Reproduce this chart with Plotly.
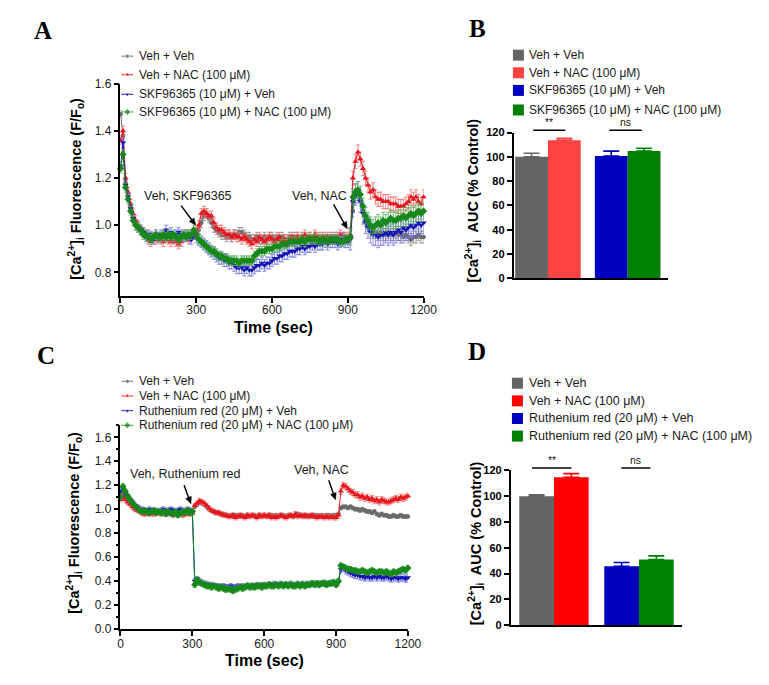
import math
import plotly.graph_objects as go

# page is drawn inside the default 8px body margin, so the figure is offset by 8px
OX, OY = 8, 8
FW, FH = 761, 677
FONT = "Liberation Sans, Arial, sans-serif"

# ---------------- DATA ----------------
time_s = list(range(0, 1201, 10))

# Panel A (SKF96365 experiment)
a_veh_veh = [1.47,1.38,1.18,1.13,1.08,1.03,1.01,0.99,0.98,0.97,
             0.96,0.95,0.96,0.94,0.95,0.94,0.95,0.96,0.95,0.94,
             0.95,0.94,0.95,0.96,0.95,0.96,0.95,0.96,0.95,0.96,
             0.97,0.98,1.01,1.04,1.05,1.03,1.01,0.99,0.98,0.97,
             0.96,0.96,0.95,0.96,0.95,0.96,0.96,0.97,0.97,0.96,
             0.95,0.95,0.94,0.94,0.95,0.94,0.94,0.95,0.94,0.95,
             0.95,0.94,0.95,0.94,0.95,0.94,0.94,0.95,0.94,0.95,
             0.95,0.94,0.95,0.94,0.95,0.95,0.94,0.95,0.94,0.95,
             0.94,0.95,0.94,0.95,0.94,0.95,0.95,0.94,0.95,0.94,
             0.94,0.95,1.06,1.12,1.13,1.11,1.06,1.02,1.00,0.98,
             0.97,0.97,0.96,0.97,0.96,0.96,0.97,0.96,0.96,0.97,
             0.96,0.96,0.95,0.96,0.95,0.94,0.95,0.95,0.96,0.95,0.95]
a_veh_nac = [1.36,1.40,1.20,1.14,1.09,1.05,1.02,1.00,0.98,0.97,
             0.96,0.94,0.93,0.95,0.94,0.95,0.94,0.93,0.95,0.94,
             0.93,0.94,0.93,0.92,0.93,0.95,0.96,0.94,0.95,0.96,
             0.97,1.00,1.05,1.06,1.05,1.04,1.04,1.01,0.99,0.98,
             0.98,0.97,0.96,0.96,0.95,0.96,0.95,0.95,0.94,0.95,
             0.94,0.93,0.92,0.94,0.93,0.95,0.94,0.93,0.94,0.95,
             0.94,0.93,0.94,0.95,0.93,0.94,0.93,0.94,0.95,0.93,
             0.95,0.94,0.95,0.96,0.94,0.95,0.94,0.96,0.95,0.94,
             0.95,0.94,0.95,0.94,0.95,0.94,0.95,0.96,0.95,0.95,
             0.95,0.96,1.20,1.27,1.31,1.28,1.24,1.20,1.17,1.14,
             1.15,1.12,1.11,1.11,1.10,1.10,1.10,1.09,1.09,1.09,
             1.08,1.08,1.08,1.09,1.10,1.12,1.11,1.12,1.10,1.09,1.12]
a_skf_veh = [1.25,1.35,1.17,1.12,1.07,1.03,1.00,0.99,0.98,0.97,
             0.95,0.96,0.95,0.94,0.96,0.95,0.96,0.95,0.98,0.96,
             0.97,0.95,0.96,0.97,0.96,0.95,0.96,0.95,0.94,0.96,
             0.95,0.94,0.93,0.92,0.91,0.90,0.89,0.88,0.87,0.86,
             0.86,0.85,0.85,0.84,0.84,0.83,0.82,0.82,0.82,0.81,
             0.82,0.81,0.81,0.82,0.83,0.83,0.84,0.83,0.84,0.84,
             0.85,0.86,0.86,0.87,0.87,0.88,0.88,0.89,0.89,0.89,
             0.90,0.90,0.91,0.90,0.91,0.91,0.92,0.91,0.92,0.92,
             0.92,0.93,0.92,0.93,0.93,0.93,0.92,0.93,0.94,0.93,
             0.93,0.94,1.10,1.13,1.14,1.10,1.05,1.01,0.99,0.97,
             0.96,0.96,0.95,0.96,0.96,0.97,0.96,0.97,0.96,0.97,
             0.98,0.97,0.99,0.98,0.99,1.00,0.99,1.00,1.01,1.00,1.01]
a_skf_nac = [1.24,1.30,1.16,1.11,1.06,1.02,1.00,0.99,0.98,0.96,
             0.96,0.95,0.94,0.95,0.96,0.95,0.95,0.96,0.95,0.96,
             0.95,0.96,0.95,0.94,0.95,0.96,0.95,0.96,0.96,0.98,
             0.96,0.94,0.93,0.92,0.91,0.90,0.89,0.89,0.88,0.87,
             0.87,0.86,0.86,0.85,0.85,0.85,0.85,0.84,0.85,0.85,
             0.85,0.85,0.85,0.87,0.88,0.89,0.89,0.89,0.90,0.90,
             0.90,0.91,0.91,0.91,0.92,0.92,0.92,0.93,0.93,0.93,
             0.93,0.93,0.94,0.93,0.94,0.94,0.94,0.94,0.94,0.93,
             0.94,0.94,0.93,0.94,0.94,0.94,0.94,0.93,0.93,0.94,
             0.94,0.95,1.12,1.14,1.15,1.13,1.08,1.04,1.02,1.00,
             0.99,1.00,1.01,1.00,1.02,1.01,1.02,1.03,1.02,1.02,
             1.03,1.03,1.04,1.03,1.04,1.05,1.04,1.05,1.06,1.05,1.06]

# Panel C (Ruthenium red experiment)
c_veh_veh = [1.10,1.12,1.10,1.08,1.06,1.04,1.02,1.01,0.99,0.98,
             0.97,0.97,0.98,0.97,0.98,0.97,0.98,0.98,0.97,0.98,
             0.98,0.97,0.98,0.98,0.97,0.98,0.97,0.98,0.98,0.99,
             0.98,1.02,1.04,1.06,1.05,1.04,1.02,1.00,0.99,0.98,
             0.97,0.97,0.96,0.96,0.95,0.95,0.95,0.94,0.95,0.95,
             0.94,0.95,0.94,0.95,0.94,0.95,0.95,0.94,0.95,0.94,
             0.95,0.94,0.95,0.95,0.94,0.95,0.94,0.95,0.95,0.94,
             0.95,0.95,0.94,0.95,0.96,0.95,0.95,0.94,0.95,0.95,
             0.94,0.95,0.95,0.94,0.95,0.94,0.95,0.95,0.94,0.95,
             0.95,0.96,1.01,1.02,1.02,1.01,1.02,1.01,1.00,1.00,
             0.99,1.00,0.99,0.98,0.98,0.97,0.98,0.96,0.95,0.96,
             0.95,0.95,0.94,0.94,0.95,0.94,0.94,0.95,0.94,0.94,0.94]
c_veh_nac = [1.08,1.10,1.08,1.06,1.04,1.02,1.00,0.99,0.98,0.97,
             0.96,0.97,0.96,0.97,0.96,0.97,0.98,0.96,0.97,0.96,
             0.97,0.96,0.95,0.96,0.97,0.96,0.95,0.96,0.97,0.96,
             0.97,1.03,1.05,1.07,1.06,1.05,1.03,1.01,0.99,0.98,
             0.97,0.97,0.96,0.95,0.95,0.94,0.94,0.95,0.93,0.94,
             0.95,0.94,0.93,0.95,0.94,0.95,0.94,0.93,0.95,0.94,
             0.95,0.94,0.95,0.93,0.94,0.93,0.94,0.95,0.94,0.93,
             0.94,0.95,0.94,0.96,0.94,0.95,0.94,0.95,0.94,0.94,
             0.95,0.94,0.93,0.94,0.94,0.93,0.94,0.93,0.94,0.93,
             0.93,0.95,1.15,1.20,1.19,1.17,1.15,1.14,1.12,1.12,
             1.10,1.11,1.09,1.10,1.08,1.09,1.07,1.08,1.06,1.08,
             1.07,1.06,1.06,1.07,1.08,1.09,1.08,1.10,1.09,1.10,1.11]
c_rr_veh = [1.15,1.17,1.13,1.10,1.08,1.06,1.03,1.02,1.00,1.00,
            0.99,0.98,1.00,0.99,0.98,0.99,0.98,0.99,1.00,0.98,
            0.99,1.00,0.99,0.98,0.99,1.00,0.99,0.98,1.00,0.99,
            0.98,0.40,0.42,0.40,0.39,0.38,0.38,0.37,0.37,0.36,
            0.36,0.36,0.35,0.36,0.35,0.35,0.36,0.35,0.35,0.36,
            0.35,0.36,0.35,0.36,0.36,0.35,0.36,0.37,0.36,0.37,
            0.37,0.36,0.37,0.37,0.38,0.37,0.37,0.38,0.37,0.37,
            0.37,0.38,0.37,0.37,0.38,0.37,0.38,0.37,0.38,0.37,
            0.38,0.38,0.37,0.38,0.38,0.39,0.38,0.38,0.39,0.38,
            0.38,0.39,0.50,0.51,0.49,0.48,0.47,0.46,0.45,0.45,
            0.44,0.44,0.43,0.44,0.43,0.43,0.44,0.43,0.44,0.43,
            0.43,0.44,0.43,0.42,0.43,0.43,0.42,0.43,0.43,0.42,0.43]
c_rr_nac = [1.10,1.19,1.15,1.11,1.08,1.05,1.03,1.01,0.99,0.98,
            0.99,0.98,0.97,0.98,0.99,0.97,0.98,0.97,0.98,0.96,
            0.98,0.97,0.96,0.98,0.95,0.97,0.98,0.97,0.99,0.97,
            0.98,0.37,0.41,0.39,0.38,0.37,0.36,0.36,0.35,0.36,
            0.35,0.34,0.35,0.34,0.33,0.34,0.33,0.32,0.33,0.34,
            0.35,0.34,0.35,0.36,0.35,0.36,0.35,0.36,0.36,0.35,
            0.36,0.36,0.37,0.36,0.36,0.37,0.36,0.37,0.36,0.37,
            0.36,0.37,0.36,0.36,0.37,0.36,0.37,0.36,0.37,0.37,
            0.38,0.37,0.38,0.37,0.38,0.38,0.37,0.38,0.38,0.39,
            0.37,0.40,0.53,0.52,0.51,0.50,0.50,0.49,0.49,0.48,
            0.48,0.49,0.48,0.47,0.48,0.49,0.48,0.47,0.48,0.48,
            0.47,0.48,0.47,0.46,0.48,0.47,0.48,0.49,0.50,0.49,0.51]

# SEM read per phase: [before first addition, after first addition, after NAC]
a_sem = {"veh_veh": [0.015, 0.02, 0.025], "veh_nac": [0.02, 0.02, 0.03],
         "skf_veh": [0.02, 0.025, 0.045], "skf_nac": [0.02, 0.02, 0.035]}
c_sem = {"veh_veh": [0.015, 0.015, 0.015], "veh_nac": [0.02, 0.02, 0.025],
         "rr_veh": [0.02, 0.02, 0.03], "rr_nac": [0.02, 0.025, 0.02]}

a_labels = ["Veh + Veh", "Veh + NAC (100 μM)", "SKF96365 (10 μM) + Veh",
            "SKF96365 (10 μM) + NAC (100 μM)"]
c_labels = ["Veh + Veh", "Veh + NAC (100 μM)", "Ruthenium red (20 μM) + Veh",
            "Ruthenium red (20 μM) + NAC (100 μM)"]

b_auc = [100, 113.6, 100.7, 104.7]
b_auc_sem = [3.0, 1.6, 4.0, 2.4]
d_auc = [100, 114.7, 45.6, 50.9]
d_auc_sem = [1.0, 2.8, 3.0, 2.8]

time_ticks = [0, 300, 600, 900, 1200]

# ---------------- STYLE / LAYOUT ----------------
line_cols = ["#6a6a6a", "#e8141c", "#1414b4", "#16891a"]
err_cols = ["rgba(140,140,140,0.8)", "rgba(240,110,110,0.8)",
            "rgba(110,110,230,0.8)", "rgba(90,175,90,0.8)"]
symbols = ["circle", "triangle-up", "triangle-down", "diamond"]
msizes = [4.5, 5.5, 5.5, 5.5]
b_cols = ["#646464", "#ff4242", "#0000c0", "#008000"]
d_cols = ["#646464", "#ff0000", "#0000c0", "#008000"]
bar_pos_b = [0, 1, 2.43, 3.43]
bar_pos_d = [0, 1, 2.45, 3.45]

# plot boxes in page pixels: (x_left, x_right, y_bottom, y_top)
BOX_A = (120, 430, 295, 78)
BOX_B = (522, 680, 277, 128)
BOX_C = (120, 414, 635, 427)
BOX_D = (519, 694, 631, 473)
RANGE_A = ([0, 1200], [0.7, 1.6])
RANGE_C = ([0, 1200], [0, 1.7])


def pxx(x):
    return (x - OX) / FW


def pxy(y):
    return 1 - (y - OY) / FH


def data_px(box, rng, xv, yv):
    (xl, xr, yb, yt), (rx, ry) = box, rng
    return (xl + (xv - rx[0]) / (rx[1] - rx[0]) * (xr - xl),
            yb + (yv - ry[0]) / (ry[1] - ry[0]) * (yt - yb))


def sem_series(ph):
    return [ph[0] if t < 300 else (ph[1] if t < 910 else ph[2]) for t in time_s]


fig = go.Figure()

# time courses
for (series, sems, xa, ya) in [
    ([a_veh_veh, a_veh_nac, a_skf_veh, a_skf_nac], list(a_sem.values()), "x", "y"),
    ([c_veh_veh, c_veh_nac, c_rr_veh, c_rr_nac], list(c_sem.values()), "x3", "y3"),
]:
    for i, vals in enumerate(series):
        assert len(vals) == len(time_s), (i, len(vals))
        fig.add_trace(go.Scatter(
            x=time_s, y=vals, mode="lines+markers", xaxis=xa, yaxis=ya,
            line=dict(color=line_cols[i], width=1),
            marker=dict(symbol=symbols[i], size=msizes[i], color=line_cols[i]),
            error_y=dict(type="data", array=sem_series(sems[i]), color=err_cols[i],
                         thickness=1, width=2),
            cliponaxis=False, showlegend=False, hoverinfo="skip"))

# bars
for vals, sems, cols, pos, labels, xa, ya in [
    (b_auc, b_auc_sem, b_cols, bar_pos_b, a_labels, "x2", "y2"),
    (d_auc, d_auc_sem, d_cols, bar_pos_d, c_labels, "x4", "y4"),
]:
    for i in range(4):
        fig.add_trace(go.Bar(
            x=[pos[i]], y=[vals[i]], width=1, xaxis=xa, yaxis=ya, name=labels[i],
            marker=dict(color=cols[i], line=dict(width=0)),
            error_y=dict(type="data", symmetric=False, array=[sems[i]], arrayminus=[0],
                         color=cols[i], thickness=1.6, width=8),
            showlegend=False, hoverinfo="skip"))

# manual legends on a full-page overlay axis (page-pixel units)
leg_rows_a = [50, 69, 89, 107]
leg_rows_c = [382, 397, 412, 427]
leg_rows_b = [49, 67, 85, 105]
leg_rows_d = [384, 402, 420, 438]
for rows in (leg_rows_a, leg_rows_c):
    for i, yy in enumerate(rows):
        fig.add_trace(go.Scatter(
            x=[121, 127, 133], y=[yy, yy, yy], mode="lines+markers", xaxis="x5", yaxis="y5",
            line=dict(color=line_cols[i], width=1),
            marker=dict(symbol=symbols[i], size=[0, msizes[i], 0], color=line_cols[i]),
            showlegend=False, hoverinfo="skip", cliponaxis=False))
for rows, cols, xc in ((leg_rows_b, b_cols, 527), (leg_rows_d, d_cols, 526)):
    for i, yy in enumerate(rows):
        fig.add_trace(go.Scatter(
            x=[xc], y=[yy], mode="markers", xaxis="x5", yaxis="y5",
            marker=dict(symbol="square", size=11, color=cols[i]),
            showlegend=False, hoverinfo="skip", cliponaxis=False))

ann = []
for rows, labels, x0, fs in ((leg_rows_a, a_labels, 137, 12), (leg_rows_c, c_labels, 137, 12),
                             (leg_rows_b, a_labels, 536, 12), (leg_rows_d, c_labels, 536, 12.5)):
    for yy, lab in zip(rows, labels):
        ann.append(dict(x=pxx(x0), y=pxy(yy), xref="paper", yref="paper", text=lab,
                        showarrow=False, xanchor="left", yanchor="middle",
                        font=dict(family=FONT, size=fs, color="#1a1a1a")))

# panel letters
for lab, x, y in (("A", 41, 24), ("B", 485, 22), ("C", 44, 356), ("D", 485, 352)):
    ann.append(dict(x=pxx(x), y=pxy(y), xref="paper", yref="paper", text=f"<b>{lab}</b>",
                    showarrow=False, xanchor="center", yanchor="middle",
                    font=dict(family="Liberation Serif, Times New Roman, serif", size=25,
                              color="black")))

# axis titles
ytitle_f = "[Ca<sup>2+</sup>]<sub>i</sub> Fluorescence (F/F<sub>o</sub>)"
ytitle_auc = "[Ca<sup>2+</sup>]<sub>i</sub>  AUC (% Control)"
for txt, x, y in ((ytitle_f, 75, 186), (ytitle_f, 73, 527),
                  (ytitle_auc, 481, 197), (ytitle_auc, 483, 547)):
    ann.append(dict(x=pxx(x), y=pxy(y), xref="paper", yref="paper", text=f"<b>{txt}</b>",
                    textangle=-90, showarrow=False, xanchor="center", yanchor="middle",
                    font=dict(family=FONT, size=14.5, color="black")))
for x, y in ((276, 327), (267, 667)):
    ann.append(dict(x=pxx(x), y=pxy(y), xref="paper", yref="paper", text="<b>Time (sec)</b>",
                    showarrow=False, xanchor="center", yanchor="middle",
                    font=dict(family=FONT, size=16, color="black")))

# event arrows (drawn as shapes) + their labels
shapes = []
for box, rng, hx, hy, dx, dy in ((BOX_A, RANGE_A, 298, 1.0, -15, -20),
                                 (BOX_A, RANGE_A, 898, 0.985, -14, -25),
                                 (BOX_C, RANGE_C, 294, 1.045, -7, -19),
                                 (BOX_C, RANGE_C, 898, 1.078, -7, -20)):
    tipx, tipy = data_px(box, rng, hx, hy)
    L = math.hypot(dx, dy)
    ux, uy = -dx / L, -dy / L
    bx, by = tipx - ux * 7, tipy - uy * 7
    nx, ny = -uy * 3, ux * 3
    shapes.append(dict(type="line", xref="paper", yref="paper",
                       x0=pxx(tipx + dx), y0=pxy(tipy + dy), x1=pxx(bx), y1=pxy(by),
                       line=dict(color="black", width=1.4)))
    path = (f"M {pxx(tipx)},{pxy(tipy)} L {pxx(bx + nx)},{pxy(by + ny)} "
            f"L {pxx(bx - nx)},{pxy(by - ny)} Z")
    shapes.append(dict(type="path", xref="paper", yref="paper", path=path,
                       fillcolor="black", line=dict(color="black", width=0.5)))
for txt, x, y in (("Veh, SKF96365", 189, 193), ("Veh, NAC", 324, 193),
                  ("Veh, Ruthenium red", 186, 477), ("Veh, NAC", 326, 473)):
    ann.append(dict(x=pxx(x), y=pxy(y), xref="paper", yref="paper", text=txt, showarrow=False,
                    xanchor="center", yanchor="middle",
                    font=dict(family=FONT, size=12.5, color="#1a1a1a")))

# significance markers
for xa, box, pairs in (("x2", BOX_B, [((0.05, 1.03), "**"), ((2.37, 3.36), "ns")]),
                       ("x4", BOX_D, [((-0.13, 1.0), "**"), ((2.44, 3.28), "ns")])):
    ypx = box[2] + 121.8 / 120 * (box[3] - box[2])
    yv = pxy(ypx)
    for (x0, x1), txt in pairs:
        shapes.append(dict(type="line", xref=xa, yref="paper", x0=x0, x1=x1, y0=yv, y1=yv,
                           line=dict(color="black", width=1.5)))
        ann.append(dict(x=(x0 + x1) / 2, y=pxy(ypx - 1), xref=xa, yref="paper", text=txt,
                        showarrow=False, xanchor="center", yanchor="bottom", borderpad=0,
                        font=dict(family=FONT, size=10.5, color="#1a1a1a")))

axis_common = dict(showline=True, linecolor="black", linewidth=1.5, ticks="outside",
                   ticklen=5, tickwidth=1.5, tickcolor="black", showgrid=False, zeroline=False,
                   mirror=False)
tick_reg = dict(family=FONT, size=12, color="#1a1a1a")
tick_bold = dict(family=FONT, size=11, color="black", weight="bold")
bar_x_common = dict(showline=True, linecolor="black", linewidth=1.5, ticks="",
                    showticklabels=False, showgrid=False, zeroline=False)

fig.update_layout(
    width=FW, height=FH, autosize=False, margin=dict(l=0, r=0, t=0, b=0),
    paper_bgcolor="white", plot_bgcolor="rgba(0,0,0,0)", showlegend=False,
    xaxis=dict(domain=[pxx(BOX_A[0]), pxx(BOX_A[1])], range=RANGE_A[0], anchor="y",
               tickvals=time_ticks, tickfont=tick_reg, ticklabelstandoff=-3, **axis_common),
    yaxis=dict(domain=[pxy(BOX_A[2]), pxy(BOX_A[3])], range=RANGE_A[1], anchor="x",
               tick0=0.8, dtick=0.2, tickformat=".1f", tickfont=tick_reg, **axis_common),
    xaxis2=dict(domain=[pxx(BOX_B[0]), pxx(BOX_B[1])], range=[-0.55, 4.16], anchor="y2",
                **bar_x_common),
    yaxis2=dict(domain=[pxy(BOX_B[2]), pxy(BOX_B[3])], range=[0, 120], anchor="x2", dtick=20,
                tickfont=tick_bold, **axis_common),
    xaxis3=dict(domain=[pxx(BOX_C[0]), pxx(BOX_C[1])], range=RANGE_C[0], anchor="y3",
                tickvals=time_ticks, tickfont=tick_reg, ticklabelstandoff=-2, **axis_common),
    yaxis3=dict(domain=[pxy(BOX_C[2]), pxy(BOX_C[3])], range=RANGE_C[1], anchor="x3",
                tick0=0, dtick=0.2, tickformat=".1f", tickfont=tick_reg,
                minor=dict(dtick=0.1, ticks="outside", ticklen=3, tickcolor="black"),
                **axis_common),
    xaxis4=dict(domain=[pxx(BOX_D[0]), pxx(BOX_D[1])], range=[-0.75, 4.18], anchor="y4",
                **bar_x_common),
    yaxis4=dict(domain=[pxy(BOX_D[2]), pxy(BOX_D[3])], range=[0, 120], anchor="x4", dtick=20,
                tickfont=tick_bold, **axis_common),
    xaxis5=dict(domain=[0, 1], range=[OX, OX + FW], anchor="y5", visible=False,
                fixedrange=True),
    yaxis5=dict(domain=[0, 1], range=[OY + FH, OY], anchor="x5", visible=False,
                fixedrange=True),
    annotations=ann, shapes=shapes,
)

fig.write_html("out.html")
